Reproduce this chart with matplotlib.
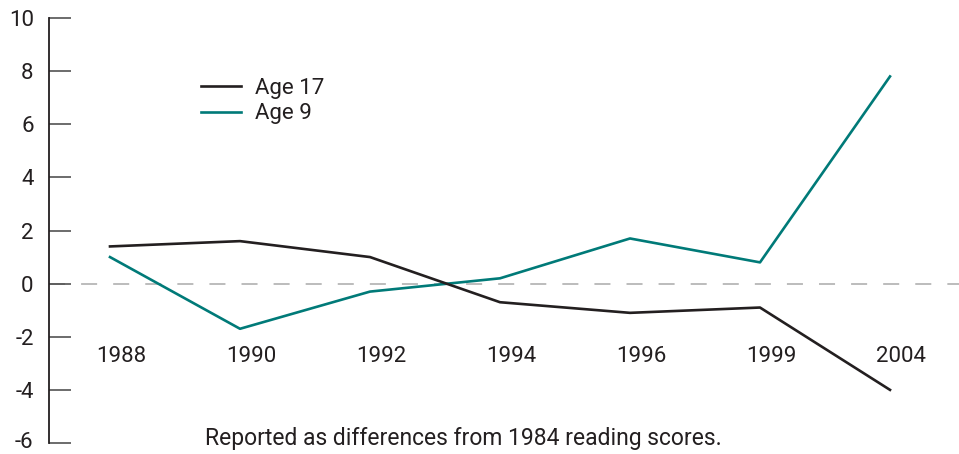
import numpy as np
import matplotlib
matplotlib.use('Agg')
import matplotlib.pyplot as plt
import matplotlib.transforms as mtransforms

plt.rcParams['font.family'] = ['Roboto', 'DejaVu Sans']

# data
years = ['1988', '1990', '1992', '1994', '1996', '1999', '2004']
age17 = [1.4, 1.6, 1.0, -0.7, -1.1, -0.9, -4.0]
age9 = [1.0, -1.7, -0.3, 0.2, 1.7, 0.8, 7.8]
yticks = [-6, -4, -2, 0, 2, 4, 6, 8, 10]
caption = 'Reported as differences from 1984 reading scores.'

dark = '#231f20'
teal = '#007a78'
fs = 16

fig = plt.figure(figsize=(9.59, 4.54), dpi=100)
ax = fig.add_axes([49/959, 1 - 443/454, 910/959, 425/454])

x = np.arange(len(years))
ax.axhline(0, color='#aaaaaa', lw=1.1, dashes=(10.5, 10.5), zorder=1)
ax.plot(x, age17, color=dark, lw=1.9, label='Age 17', zorder=3)
ax.plot(x, age9, color=teal, lw=1.9, label='Age 9', zorder=2)

# year labels sit inside the plot, a bit right of each point
for i, yr in enumerate(years):
    ax.text(i + 0.085, -2.75, yr, ha='center', va='center', fontsize=fs, color=dark)

ax.set_xlim(-61/130, 849/130)
ax.set_ylim(-6, 10)
ax.set_xticks([])
ax.set_yticks(yticks)
ax.set_yticklabels([str(v) for v in yticks], fontsize=fs, color=dark)
ax.tick_params(axis='y', direction='in', length=15.8, width=1.1, color='#444444', pad=11)

# bottom label would touch the figure edge, lift it a touch
lbl = ax.get_yticklabels()[0]
lbl.set_transform(lbl.get_transform() + mtransforms.ScaledTranslation(0, 2.5/72, fig.dpi_scale_trans))

for s in ['top', 'right', 'bottom']:
    ax.spines[s].set_visible(False)
ax.spines['left'].set_color(dark)
ax.spines['left'].set_linewidth(1.3)

leg = ax.legend(loc='upper left', bbox_to_anchor=(152/910, 0.86), frameon=False,
                fontsize=fs, handlelength=1.8, handletextpad=0.65,
                labelspacing=0.22, borderpad=0, borderaxespad=0)
for t in leg.get_texts():
    t.set_color(dark)

fig.text(463/959, 1 - 438/454, caption, ha='center', va='center', fontsize=16.5, color=dark)

fig.savefig('out.png', dpi=100)
